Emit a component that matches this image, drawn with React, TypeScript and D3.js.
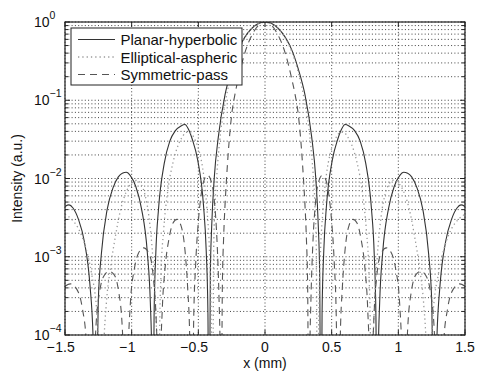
import React from 'react';
import * as d3 from 'd3';

// x tick values and y decade exponents
const xTicks = [-1.5, -1, -0.5, 0, 0.5, 1, 1.5];
const yDecades = [1e-4, 1e-3, 1e-2, 1e-1, 1];
const yExps = ['\u22124', '\u22123', '\u22122', '\u22121', '0'];

const legendLabels = ['Planar-hyperbolic', 'Elliptical-aspheric', 'Symmetric-pass'];

// Planar-hyperbolic (solid)
const planar: [number, number][] = [
  [-1.5, 0.0044], [-1.47, 0.0046], [-1.44, 0.0042], [-1.399, 0.003], [-1.356, 0.0016], [-1.313, 0.00044],
  [-1.29, 0.0001], [-1.28, 0.000024], [-1.27, 1e-6], [-1.25, 0.00028], [-1.227, 0.0011], [-1.184, 0.004],
  [-1.14, 0.0076], [-1.1, 0.0105], [-1.07, 0.0117], [-1.04, 0.012], [-1.01, 0.0109], [-0.969, 0.0079],
  [-0.926, 0.0041], [-0.883, 0.00115], [-0.86, 0.00026], [-0.849, 0.00005], [-0.84, 1e-6], [-0.832, 0.00017],
  [-0.819, 0.0011], [-0.798, 0.0042], [-0.756, 0.0155], [-0.714, 0.03], [-0.672, 0.041], [-0.63, 0.047],
  [-0.6, 0.049], [-0.575, 0.043], [-0.546, 0.032], [-0.504, 0.0169], [-0.462, 0.0047], [-0.441, 0.0012],
  [-0.428, 0.00019], [-0.42, 1e-6], [-0.41, 0.0006], [-0.4, 0.0024], [-0.38, 0.0105], [-0.35, 0.034],
  [-0.3, 0.117], [-0.25, 0.25], [-0.2, 0.444], [-0.15, 0.645], [-0.1, 0.826], [-0.05, 0.954], [0, 1],
  [0.05, 0.954], [0.1, 0.826], [0.15, 0.645], [0.2, 0.444], [0.25, 0.25], [0.3, 0.117], [0.35, 0.034],
  [0.38, 0.0105], [0.4, 0.0024], [0.41, 0.0006], [0.42, 1e-6], [0.428, 0.00019], [0.441, 0.0012],
  [0.462, 0.0047], [0.504, 0.0169], [0.546, 0.032], [0.575, 0.043], [0.6, 0.049], [0.63, 0.047],
  [0.672, 0.041], [0.714, 0.03], [0.756, 0.0155], [0.798, 0.0042], [0.819, 0.0011], [0.832, 0.00017],
  [0.84, 1e-6], [0.849, 0.00005], [0.86, 0.00026], [0.883, 0.00115], [0.926, 0.0041], [0.969, 0.0079],
  [1.01, 0.0109], [1.04, 0.012], [1.07, 0.0117], [1.1, 0.0105], [1.14, 0.0076], [1.184, 0.004],
  [1.227, 0.0011], [1.25, 0.00028], [1.27, 1e-6], [1.28, 0.000024], [1.29, 0.0001], [1.313, 0.00044],
  [1.356, 0.0016], [1.399, 0.003], [1.44, 0.0042], [1.47, 0.0046], [1.5, 0.0044],
];

// Elliptical-aspheric (dotted)
const elliptical: [number, number][] = [
  [-1.5, 0.0035], [-1.45, 0.003], [-1.4, 0.0023], [-1.35, 0.0014], [-1.3, 0.0006], [-1.26, 0.00018],
  [-1.24, 0.00003], [-1.23, 1e-6], [-1.21, 0.00006], [-1.19, 0.00025], [-1.16, 0.0007], [-1.12, 0.0019],
  [-1.08, 0.0042], [-1.04, 0.0068], [-1.0, 0.0088], [-0.96, 0.0095], [-0.93, 0.0085], [-0.9, 0.0062],
  [-0.87, 0.0032], [-0.84, 0.0009], [-0.82, 0.00022], [-0.808, 0.00004], [-0.8, 1e-6], [-0.79, 0.00012],
  [-0.78, 0.0006], [-0.76, 0.0022], [-0.73, 0.0068], [-0.69, 0.016], [-0.65, 0.027], [-0.62, 0.034],
  [-0.59, 0.039], [-0.565, 0.039], [-0.545, 0.036], [-0.52, 0.03], [-0.49, 0.021], [-0.46, 0.011],
  [-0.435, 0.004], [-0.415, 0.001], [-0.403, 0.00016], [-0.395, 1e-6], [-0.385, 0.0012], [-0.375, 0.0045],
  [-0.36, 0.012], [-0.34, 0.03], [-0.3, 0.09], [-0.25, 0.225], [-0.2, 0.42], [-0.15, 0.63], [-0.1, 0.82],
  [-0.05, 0.952], [0, 1], [0.05, 0.952], [0.1, 0.82], [0.15, 0.63], [0.2, 0.42], [0.25, 0.225], [0.3, 0.09],
  [0.34, 0.03], [0.36, 0.012], [0.375, 0.0045], [0.385, 0.0012], [0.395, 1e-6], [0.403, 0.00016],
  [0.415, 0.001], [0.435, 0.004], [0.46, 0.011], [0.49, 0.021], [0.52, 0.03], [0.545, 0.036], [0.565, 0.039],
  [0.59, 0.039], [0.62, 0.034], [0.65, 0.027], [0.69, 0.016], [0.73, 0.0068], [0.76, 0.0022], [0.78, 0.0006],
  [0.79, 0.00012], [0.8, 1e-6], [0.808, 0.00004], [0.82, 0.00022], [0.84, 0.0009], [0.87, 0.0032],
  [0.9, 0.0062], [0.93, 0.0085], [0.96, 0.0095], [1.0, 0.0088], [1.04, 0.0068], [1.08, 0.0042],
  [1.12, 0.0019], [1.16, 0.0007], [1.19, 0.00025], [1.21, 0.00006], [1.23, 1e-6], [1.24, 0.00003],
  [1.26, 0.00018], [1.3, 0.0006], [1.35, 0.0014], [1.4, 0.0023], [1.45, 0.003], [1.5, 0.0035],
];

// Symmetric-pass (dashed)
const symmetric: [number, number][] = [
  [-1.5, 0.00042], [-1.46, 0.00045], [-1.41, 0.00038], [-1.37, 0.00022], [-1.34, 0.00008], [-1.32, 0.00001],
  [-1.3, 1e-6], [-1.29, 0.00001], [-1.27, 0.00011], [-1.24, 0.00036], [-1.205, 0.00058], [-1.17, 0.00065],
  [-1.135, 0.0006], [-1.1, 0.00038], [-1.07, 0.00012], [-1.05, 0.00001], [-1.04, 1e-6], [-1.03, 0.00003],
  [-1.01, 0.00025], [-0.98, 0.0007], [-0.95, 0.0011], [-0.91, 0.0013], [-0.87, 0.0011], [-0.84, 0.0006],
  [-0.815, 0.00014], [-0.8, 0.00002], [-0.79, 1e-6], [-0.785, 0.00003], [-0.77, 0.00022], [-0.75, 0.0007],
  [-0.72, 0.0017], [-0.69, 0.0027], [-0.66, 0.003], [-0.63, 0.0025], [-0.6, 0.0012], [-0.58, 0.0004],
  [-0.565, 0.0001], [-0.555, 0.00001], [-0.55, 1e-6], [-0.535, 0.00015], [-0.52, 0.0008], [-0.5, 0.0028],
  [-0.48, 0.006], [-0.46, 0.0092], [-0.43, 0.011], [-0.4, 0.0088], [-0.38, 0.0052], [-0.36, 0.0016],
  [-0.345, 0.0003], [-0.335, 0.00004], [-0.33, 1e-6], [-0.32, 0.0004], [-0.31, 0.0018], [-0.3, 0.0045],
  [-0.29, 0.009], [-0.275, 0.022], [-0.25, 0.065], [-0.225, 0.12], [-0.2, 0.19], [-0.15, 0.41], [-0.1, 0.67],
  [-0.05, 0.9], [0, 1], [0.05, 0.9], [0.1, 0.67], [0.15, 0.41], [0.2, 0.19], [0.225, 0.12], [0.25, 0.065],
  [0.275, 0.022], [0.29, 0.009], [0.3, 0.0045], [0.31, 0.0018], [0.32, 0.0004], [0.33, 1e-6], [0.335, 0.00004],
  [0.345, 0.0003], [0.36, 0.0016], [0.38, 0.0052], [0.4, 0.0088], [0.43, 0.011], [0.46, 0.0092], [0.48, 0.006],
  [0.5, 0.0028], [0.52, 0.0008], [0.535, 0.00015], [0.55, 1e-6], [0.555, 0.00001], [0.565, 0.0001],
  [0.58, 0.0004], [0.6, 0.0012], [0.63, 0.0025], [0.66, 0.003], [0.69, 0.0027], [0.72, 0.0017], [0.75, 0.0007],
  [0.77, 0.00022], [0.785, 0.00003], [0.79, 1e-6], [0.8, 0.00002], [0.815, 0.00014], [0.84, 0.0006],
  [0.87, 0.0011], [0.91, 0.0013], [0.95, 0.0011], [0.98, 0.0007], [1.01, 0.00025], [1.03, 0.00003],
  [1.04, 1e-6], [1.05, 0.00001], [1.07, 0.00012], [1.1, 0.00038], [1.135, 0.0006], [1.17, 0.00065],
  [1.205, 0.00058], [1.24, 0.00036], [1.27, 0.00011], [1.29, 0.00001], [1.3, 1e-6], [1.32, 0.00001],
  [1.34, 0.00008], [1.37, 0.00022], [1.41, 0.00038], [1.46, 0.00045], [1.5, 0.00042],
];

const FONT = '"Liberation Sans", Arial, Helvetica, sans-serif';

export default function App() {
  const L = 65, R = 465, T = 22, B = 335;
  const x = d3.scaleLinear().domain([-1.5, 1.5]).range([L, R]);
  const y = d3.scaleLog().domain([1e-4, 1]).range([B, T]);
  const line = d3.line<[number, number]>()
    .x(d => x(d[0]))
    .y(d => y(d[1]))
    .curve(d3.curveMonotoneX);

  const allY = y.ticks();
  const series = [
    { data: planar, stroke: '#333', width: 1.1, dash: undefined as string | undefined },
    { data: elliptical, stroke: '#9a9a9a', width: 1.3, dash: '1.3,3' },
    { data: symmetric, stroke: '#555', width: 1.1, dash: '7,5' },
  ];

  const fmtAbs = (v: number) => String(Math.abs(v));
  const halfW = (s: string) => {
    let w = 0;
    for (const c of s) w += c === '.' ? 0.278 : 0.556;
    return (w * 14) / 2;
  };

  return (
    <svg width={500} height={381} style={{ position: 'absolute', left: 0, top: 0, background: '#fff' }}
      fontFamily={FONT}>
      <defs>
        <clipPath id="plotClip">
          <rect x={L} y={T} width={R - L} height={B - T} />
        </clipPath>
      </defs>
      <rect x={0} y={0} width={500} height={381} fill="#fff" />
      {/* grid */}
      <g stroke="#111" strokeWidth={0.8} strokeDasharray="1,2.3">
        {allY.map((v, i) => (
          <line key={'gy' + i} x1={L} x2={R} y1={y(v)} y2={y(v)} />
        ))}
        {xTicks.map((v, i) => (
          <line key={'gx' + i} x1={x(v)} x2={x(v)} y1={T} y2={B} />
        ))}
      </g>
      {/* curves */}
      <g clipPath="url(#plotClip)" fill="none">
        {series.map((s, i) => (
          <path key={i} d={line(s.data) || ''} stroke={s.stroke} strokeWidth={s.width}
            strokeDasharray={s.dash} />
        ))}
      </g>
      {/* ticks */}
      <g stroke="#222" strokeWidth={1}>
        {xTicks.map((v, i) => (
          <g key={'tx' + i}>
            <line x1={x(v)} x2={x(v)} y1={B} y2={B - 5} />
            <line x1={x(v)} x2={x(v)} y1={T} y2={T + 5} />
          </g>
        ))}
        {allY.map((v, i) => {
          const major = yDecades.some(d => Math.abs(d - v) / d < 1e-6);
          const len = major ? 5 : 3;
          return (
            <g key={'ty' + i}>
              <line x1={L} x2={L + len} y1={y(v)} y2={y(v)} />
              <line x1={R} x2={R - len} y1={y(v)} y2={y(v)} />
            </g>
          );
        })}
      </g>
      {/* axes box */}
      <rect x={L} y={T} width={R - L} height={B - T} fill="none" stroke="#222" strokeWidth={1.2} />
      {/* x tick labels */}
      <g fontSize={14} fill="#111">
        {xTicks.map((v, i) => {
          const s = fmtAbs(v);
          const hw = halfW(s);
          return (
            <g key={'xl' + i}>
              <text x={x(v)} y={352} textAnchor="middle">{s}</text>
              {v < 0 && <text x={x(v) - hw - 0.5} y={352} textAnchor="end">{'\u2212'}</text>}
            </g>
          );
        })}
      </g>
      {/* y tick labels */}
      <g fill="#111">
        {yDecades.map((v, i) => (
          <text key={'yl' + i} x={34} y={y(v) + 5} fontSize={14}>
            10<tspan dy={-8} fontSize={10.5}>{yExps[i]}</tspan>
          </text>
        ))}
      </g>
      {/* axis labels */}
      <text x={265} y={368} fontSize={14} textAnchor="middle" fill="#111">x (mm)</text>
      <text transform="translate(22,178.5) rotate(-90)" fontSize={14} textAnchor="middle" fill="#111">
        Intensity (a.u.)
      </text>
      {/* legend */}
      <rect x={71} y={28} width={171} height={57} fill="#fff" stroke="#222" strokeWidth={1} />
      {legendLabels.map((lab, i) => {
        const s = series[i];
        const cy = 39.5 + i * 17.5;
        return (
          <g key={'lg' + i}>
            <line x1={78} x2={115} y1={cy} y2={cy} stroke={s.stroke} strokeWidth={s.width}
              strokeDasharray={s.dash} />
            <text x={120.5} y={cy + 5.5} fontSize={15} fill="#111">{lab}</text>
          </g>
        );
      })}
    </svg>
  );
}
